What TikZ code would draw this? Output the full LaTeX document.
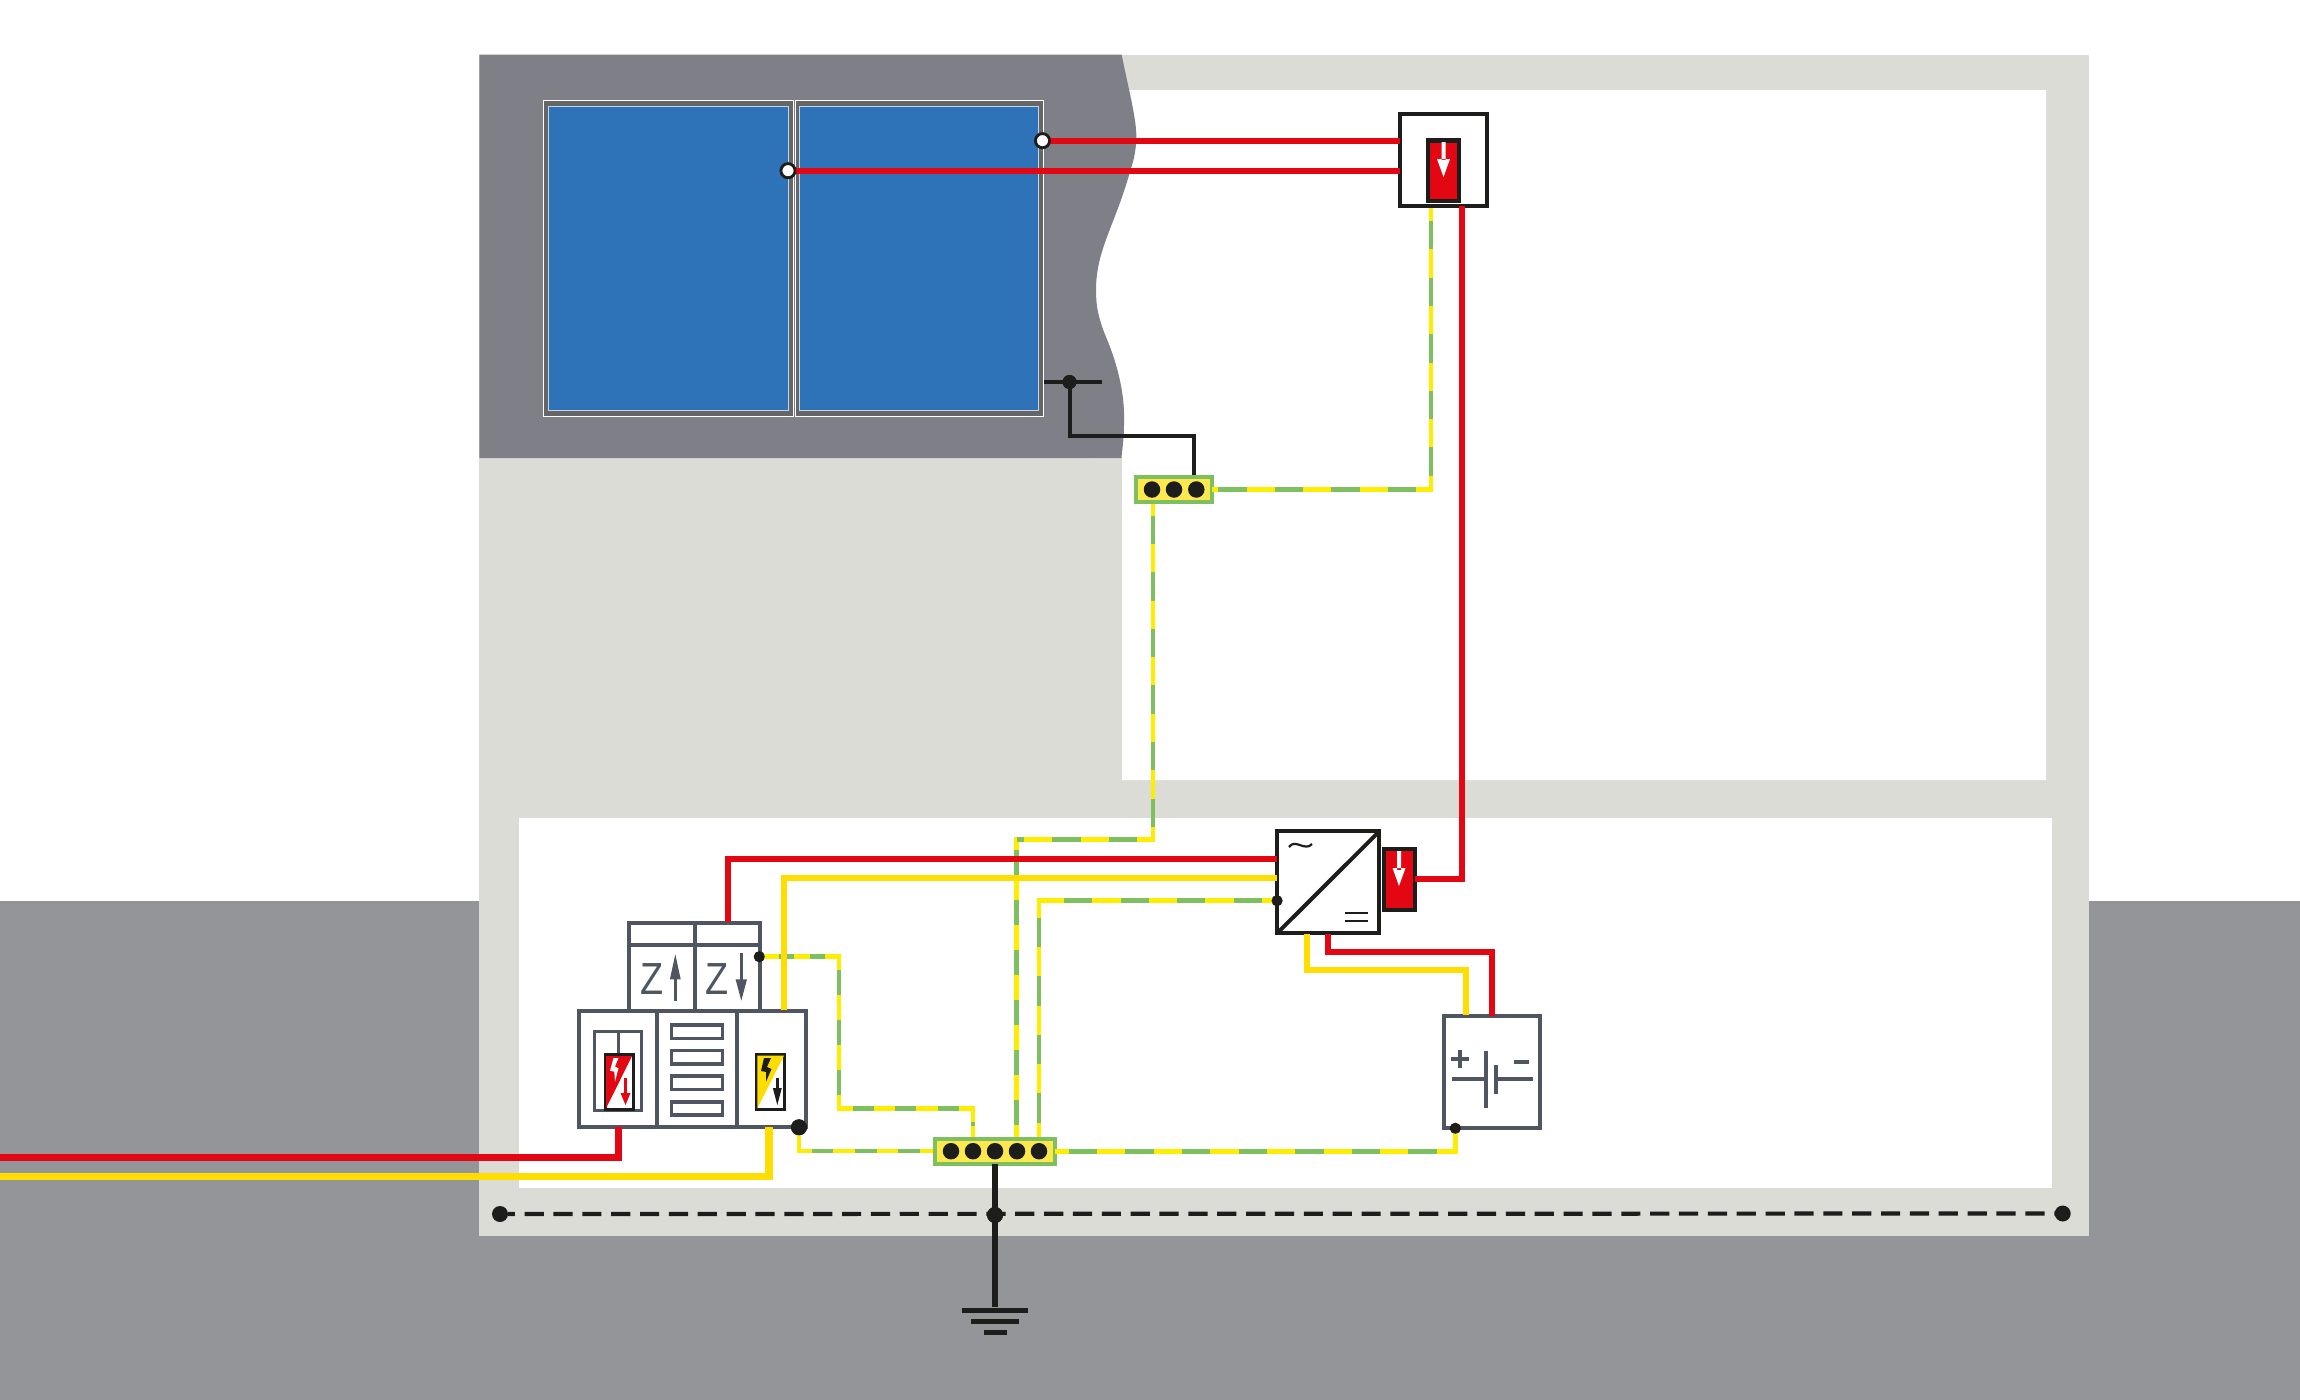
\documentclass[tikz,border=0pt]{standalone}
\usepackage{fontspec}
\setmainfont{Liberation Sans}
\usetikzlibrary{arrows.meta}
\definecolor{ground}{HTML}{939599}
\definecolor{wall}{HTML}{DBDCD6}
\definecolor{roof}{HTML}{7F7F87}
\definecolor{pv}{HTML}{2E72B8}
\definecolor{pvframe}{HTML}{666666}
\definecolor{pvedge}{HTML}{C5D3E6}
\definecolor{lred}{HTML}{E30613}
\definecolor{lyel}{HTML}{FFDD00}
\definecolor{geyel}{HTML}{FFED00}
\definecolor{gegrn}{HTML}{7EBF5F}
\definecolor{barfill}{HTML}{FDE94F}
\definecolor{ink}{HTML}{1D1D1B}
\definecolor{slate}{HTML}{4F5661}
\tikzset{
  blackbox/.style={draw=ink,line width=4pt,fill=white,inner sep=0pt,outer sep=0pt},
  slatebox/.style={draw=slate,line width=4pt,fill=white,inner sep=0pt,outer sep=0pt},
  midslot/.style={draw=slate,line width=3.6pt,inner sep=0pt,outer sep=0pt,minimum width=51pt,minimum height=13.2pt},
  spdred/.style={draw=ink,line width=4.2pt,fill=lred,inner sep=0pt,outer sep=0pt},
  spdmini/.style={draw=ink,line width=3.3pt,fill=white,inner sep=0pt,outer sep=0pt,minimum width=27.7pt,minimum height=55.3pt},
  busbar/.style={draw=gegrn,line width=4pt,fill=barfill,inner sep=0pt,outer sep=0pt},
  dot/.style={circle,fill=ink,inner sep=0pt,outer sep=0pt},
  bardot/.style={dot,minimum size=16.5pt},
  term/.style={circle,draw=ink,line width=2.7pt,fill=white,inner sep=0pt,outer sep=0pt,minimum size=14pt},
  panelframe/.style={draw=white,line width=1pt,fill=pvframe},
  panelface/.style={draw=pvedge,line width=1pt,fill=pv},
  redwire/.style={draw=lred,line width=6pt},
  yelwire/.style={draw=lyel,line width=6pt},
  inkwire/.style={draw=ink,line width=4pt},
  slateline/.style={draw=slate,line width=3.8pt},
  zlabel/.style={text=slate,font=\fontsize{45}{45}\selectfont,inner sep=0pt,xscale=.84},
}
% protective-earth wire: solid yellow base, green dashes laid on top
\newcommand{\gebase}[1]{\draw[geyel,line width=4.5pt] #1;}
\newcommand{\gegreen}[3]{\draw[gegrn,line width=4.5pt,dash pattern=on #1pt off #1pt,dash phase=#2pt] #3;}
\begin{document}
\begin{tikzpicture}[x=1pt,y=-1pt]
\useasboundingbox (0,0) rectangle (2300,1400);
% ground, building
\fill[ground] (0,900.5) rectangle (2300,1400);
\fill[wall] (479.3,54.7) rectangle (2089,1235.5);
\fill[white] (1090,90) -- (2046,90) -- (2046,780) -- (1122,780) -- (1122,458) -- (1090,458) -- cycle;
\fill[white] (519,818.3) rectangle (2052,1188);
% roof
\fill[roof] (479.3,54.7) -- (1121.6,54.7)
  .. controls (1130,95) and (1136.5,120) .. (1136.3,137)
  .. controls (1136,155) and (1132,165) .. (1129.6,173)
  .. controls (1115,225) and (1096,250) .. (1096,290)
  .. controls (1096,310) and (1100,322) .. (1106,337)
  .. controls (1120,370) and (1125,400) .. (1124,423)
  .. controls (1124,440) and (1122,450) .. (1121.5,458)
  -- (479.3,458) -- cycle;
% PV panels
\draw[panelframe] (543.5,100.7) rectangle (793,416.7);
\draw[panelface] (548,106.7) rectangle (788,410.7);
\draw[panelframe] (795,100.7) rectangle (1043,416.7);
\draw[panelface] (799,106.7) rectangle (1038.5,410.7);

% devices (named first so wires can refer to them)
\node[blackbox,minimum width=87.6pt,minimum height=92.3pt] (spdtop) at (1443.5,160.2) {};
\node[spdred,minimum width=30.8pt,minimum height=60.8pt] (spdtopin) at (1443.5,170.8) {};
\node[blackbox,minimum width=102.3pt,minimum height=102pt] (inv) at (1328.2,882.3) {};
\node[spdred,minimum width=30.6pt,minimum height=61pt] (spdinv) at (1399.3,879.5) {};
\node[slatebox,minimum width=96.6pt,minimum height=112.3pt] (batt) at (1492,1071.8) {};
\node[slatebox,minimum width=227pt,minimum height=115.7pt] (main) at (692.2,1068.9) {};
\node[slatebox,minimum width=65.8pt,minimum height=88.3pt] (zup) at (661.6,966.9) {};
\node[slatebox,minimum width=65.8pt,minimum height=88.3pt] (zdown) at (727.4,966.9) {};
\node[busbar,minimum width=76pt,minimum height=25pt] (bar3) at (1174,489.5) {};
\node[busbar,minimum width=119.7pt,minimum height=25pt] (bar5) at (995,1151.2) {};
\node[term] (t1) at (1042.5,140.7) {};
\node[term] (t2) at (788,170.7) {};
\node[dot,minimum size=14pt] (pvdot) at (1069.5,382) {};
\node[dot,minimum size=11pt] (zdot) at (759.3,956.7) {};
\node[dot,minimum size=16pt] (maindot) at (799,1127.3) {};
\node[dot,minimum size=11pt] (invdot) at (1277,900.7) {};
\node[dot,minimum size=11pt] (battdot) at (1455.3,1128.3) {};
\node[dot,minimum size=16pt] (el) at (500,1214) {};
\node[dot,minimum size=16pt] (er) at (2062.7,1213.5) {};
\node[dot,minimum size=16pt] (ec) at (995,1215) {};
\coordinate (stubl) at (1044,382);
\coordinate (stubr) at (1101.5,382);
\coordinate (supr) at (0,1157.3);
\coordinate (supy) at (0,1176.7);
\coordinate (gnd) at (995,1307);

% dashed equipotential line
\draw[ink,line width=4.2pt,dash pattern=on 19.2pt off 9.66pt,dash phase=12.3pt] (el) -- (er);

% earth wires
\gebase{(1431,208) -- (1431,489.3) -- (bar3.east |- 0,489.3)}
\gegreen{28.3}{43.6}{(1431,208) -- (1431,489.3) -- (bar3.east |- 0,489.3)}
\gebase{(1153,504) -- (1153,839.5) -- (1016.5,839.5) -- (1016.5,1137)}
\gegreen{28.3}{45}{(1153,504) -- (1153,839.5) -- (1016.5,839.5)}
\gegreen{25}{39.5}{(1016.5,839.5) -- (1016.5,1137)}
\gebase{(invdot.center) -- (1039,900.7) -- (1039,1137)}
\gegreen{28.3}{41.6}{(invdot.center) -- (1039,900.7)}
\gegreen{29.3}{41.7}{(1039,900.7) -- (1039,1137)}
\gebase{(zdot.center) -- (839,956.7) -- (839,1108.7) -- (973,1108.7) -- (973,1137)}
\gegreen{15.4}{15.4}{(763.6,956.7) -- (839,956.7)}
\gegreen{25}{36.7}{(839,956.7) -- (839,1108.7)}
\gegreen{21.2}{28.7}{(839,1108.7) -- (973,1108.7)}
\draw[gegrn,line width=4.5pt] (973,1121.7) -- (973,1126);
\gebase{(maindot.center) -- (799,1151) -- (933,1151)}
\gegreen{21.6}{30.5}{(799,1151) -- (933,1151)}
\gebase{(bar5.east |- 0,1151.5) -- (1455.3,1151.5) -- (battdot.center)}
\gegreen{28.3}{42.6}{(bar5.east |- 0,1151.5) -- (1455.3,1151.5)}

% PV side wires
\draw[lred,line width=6.2pt] (t1.center) -- (spdtop.west |- t1);
\draw[lred,line width=6.2pt] (t2.center) -- (spdtop.west |- t2);
\draw[redwire] (1461.7,206) -- (1461.7,879) -- (spdinv.east |- 0,879);
\draw[inkwire] (stubl) -- (stubr);
\draw[inkwire] (pvdot.center) -- (1069.5,436) -- (1193.5,436) -- (1193.5,475);

% DC / AC wires
\draw[redwire] (inv.west |- 0,859) -- (728,859) -- (728,922);
\draw[yelwire] (inv.west |- 0,877.7) -- (784.3,877.7) -- (784.3,1010);
\draw[yelwire] (1306.7,934) -- (1306.7,970) -- (1465.7,970) -- (1465.7,1015);
\draw[redwire] (1328.3,934) -- (1328.3,952) -- (1492,952) -- (batt.north);

% supply
\draw[lred,line width=7.5pt] (618.3,1127) -- (618.3,1157.3) -- (supr);
\draw[lyel,line width=7.5pt] (769,1127) -- (769,1176.7) -- (supy);

% earthing
\draw[ink,line width=6pt] (bar5.south) -- (gnd);
\draw[ink,line width=5pt] (962,1310) -- (1028,1310);
\draw[ink,line width=5.5pt] (971,1321.3) -- (1019,1321.3);
\draw[ink,line width=5pt] (984.3,1332.3) -- (1006.7,1332.3);

% redraw dots above the wires
\node[dot,minimum size=16pt] at (ec) {};
\node[dot,minimum size=14pt] at (pvdot) {};
\node[term] at (t1) {};
\node[term] at (t2) {};

% bus-bar dots
\foreach \x in {1152,1174,1196.3} \node[bardot] at (\x,489.5) {};
\foreach \x in {951,973,995,1017,1039} \node[bardot] at (\x,1151.2) {};

% inverter symbols
\draw[ink,line width=4pt] (inv.south west) -- (inv.north east);
\draw[ink,line width=2.2pt] (1289,847) .. controls (1295,838) and (1305,852) .. (1312,844);
\draw[ink,line width=2.4pt] (1345,912.7) -- (1368,912.7);
\draw[ink,line width=2.4pt] (1345,921) -- (1368,921);
\node[dot,minimum size=11pt] at (invdot) {};

% SPD arrows
\fill[white] (1441.5,142) rectangle (1445.5,160) (1437,159) -- (1450,159) -- (1443.5,177) -- cycle;
\fill[white] (1397,851) rectangle (1401,870) (1392.5,868) -- (1405.5,868) -- (1399,886) -- cycle;

% meters
\draw[slateline] (zup.west |- 0,945) -- (zdown.east |- 0,945);
\node[zlabel] (z1) at (651.7,979.5) {Z};
\node[zlabel] (z2) at (716.7,979.5) {Z};
\draw[slate,line width=3pt] (675.3,972) -- (675.3,1000.7);
\fill[slate] (675.3,954.3) -- (680.7,979.3) -- (669.9,979.3) -- cycle;
\draw[slate,line width=3pt] (741.3,953.3) -- (741.3,982);
\fill[slate] (741.3,1000.7) -- (735.6,979.3) -- (747,979.3) -- cycle;
\node[dot,minimum size=11pt] at (zdot) {};

% main cabinet
\draw[slateline] (657.3,1011) -- (657.3,1126);
\draw[slateline] (736.7,1011) -- (736.7,1126);
\foreach \y in {1031.7,1057.2,1082.7,1108.3} \node[midslot] at (697,\y) {};
\draw[slate,line width=3.3pt] (594.7,1031.7) rectangle (641.7,1110.6);
\draw[slate,line width=3.3pt] (618.5,1031.7) -- (618.5,1054);
\node[dot,minimum size=16pt] at (maindot) {};

% type 1 module (red)
\node[spdmini] (mred) at (619.5,1082) {};
\fill[lred] (606,1056) -- (632,1056) -- (606,1108.5) -- cycle;
\fill[white] (613.5,1058) -- (618.5,1058) -- (615,1066.5) -- (618.5,1068.3) -- (615,1081.7) -- (614.3,1071.7) -- (610,1070.7) -- cycle;
\draw[lred,line width=3.5pt] (625.5,1078) -- (625.5,1095);
\fill[lred] (620.5,1093) -- (630.5,1093) -- (625.5,1105) -- cycle;
% type 2 module (yellow)
\node[spdmini] (myel) at (770.5,1082) {};
\fill[lyel] (757.3,1055.5) -- (784,1055.5) -- (757.3,1108.5) -- cycle;
\fill[ink] (764,1058) -- (771,1058) -- (767,1067) -- (771.5,1069) -- (766,1081.7) -- (766.2,1072) -- (761,1071) -- cycle;
\draw[ink,line width=2.5pt] (777.3,1078) -- (777.3,1090);
\fill[ink] (772.8,1088) -- (781.8,1088) -- (777.3,1105) -- cycle;

% battery symbol
\draw[slate,line width=4.3pt] (1451.3,1058.7) -- (1469.3,1058.7) (1460.3,1049.7) -- (1460.3,1067.7);
\draw[slate,line width=4.3pt] (1514,1062) -- (1529,1062);
\draw[slate,line width=4pt] (1452,1079.3) -- (1485.7,1079.3) (1485.7,1051.3) -- (1485.7,1108);
\draw[slate,line width=4pt] (1496.3,1079.3) -- (1532.7,1079.3) (1496.3,1065.3) -- (1496.3,1094);
\node[dot,minimum size=11pt] at (battdot) {};
\end{tikzpicture}
\end{document}
